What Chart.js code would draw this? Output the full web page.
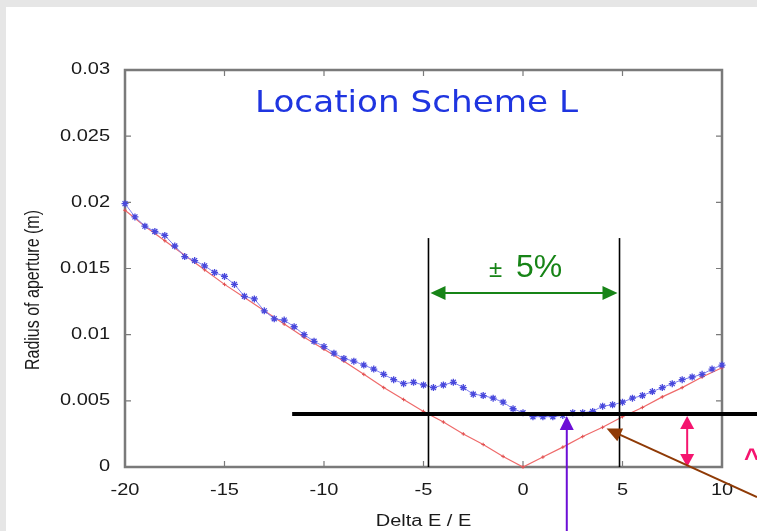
<!DOCTYPE html>
<html>
<head>
<meta charset="utf-8">
<script src="https://cdn.jsdelivr.net/npm/chart.js@4/dist/chart.umd.min.js"></script>
<style>
  html, body { margin: 0; padding: 0; background: #e6e6e6; }
  #wrap { width: 757px; height: 531px; }
</style>
</head>
<body>
<div id="wrap"><canvas id="c" width="757" height="531"></canvas></div>
<script>
// Relative energy deviation (%)
const deltaE = [
  -20, -19.5, -19, -18.5, -18, -17.5, -17, -16.5, -16, -15.5,
  -15, -14.5, -14, -13.5, -13, -12.5, -12, -11.5, -11, -10.5,
  -10, -9.5, -9, -8.5, -8, -7.5, -7, -6.5, -6, -5.5,
  -5, -4.5, -4, -3.5, -3, -2.5, -2, -1.5, -1, -0.5,
  0, 0.5, 1, 1.5, 2, 2.5, 3, 3.5, 4, 4.5,
  5, 5.5, 6, 6.5, 7, 7.5, 8, 8.5, 9, 9.5, 10
];
// Tracked aperture radius (m)
const apertureTracked = [
  0.0199, 0.0189, 0.0182, 0.0178, 0.0175, 0.0167, 0.0159, 0.0156, 0.0152, 0.0147,
  0.0144, 0.0138, 0.0129, 0.0127, 0.0118, 0.0112, 0.0111, 0.0106, 0.0100, 0.0095,
  0.0091, 0.0086, 0.0082, 0.0080, 0.0077, 0.0074, 0.0070, 0.0066, 0.0063, 0.0064,
  0.0062, 0.0060, 0.0062, 0.0064, 0.0060, 0.0055, 0.0054, 0.0052, 0.0049, 0.0044,
  0.0041, 0.0038, 0.0038, 0.0038, 0.0039, 0.0041, 0.0041, 0.0042, 0.0046, 0.0047,
  0.0049, 0.0052, 0.0054, 0.0057, 0.0060, 0.0063, 0.0066, 0.0068, 0.0070, 0.0074, 0.0077
];
// Dispersive aperture estimate
const deltaEDisp = [
  -20, -19, -18, -17, -16, -15, -14, -13, -12, -11,
  -10, -9, -8, -7, -6, -5, -4, -3, -2, -1,
  0, 1, 2, 3, 4, 5, 6, 7, 8, 9, 10
];
const apertureDisp = [
  0.0194, 0.0182, 0.0171, 0.0160, 0.0149, 0.0138, 0.0128, 0.0118, 0.0108, 0.0098,
  0.0089, 0.0080, 0.0070, 0.0060, 0.0051, 0.0042, 0.0034, 0.0025, 0.0017, 0.0008,
  0.0000, 0.00075, 0.0015, 0.0023, 0.0030, 0.0038, 0.0045, 0.0053, 0.0060, 0.0068, 0.0075
];
const xTickLabels = ['-20', '-15', '-10', '-5', '0', '5', '10'];
const yTickLabels = ['0', '0.005', '0.01', '0.015', '0.02', '0.025', '0.03'];

const titleText = 'Location Scheme L';
const xTitle = 'Delta E / E';
const yTitle = 'Radius of aperture (m)';
const windowLabel = '5%';
const apertureLimit = 0.004;       // horizontal reference level
const windowEdges = [-4.75, 4.85]; // energy window
const minMarkerX = 2.2;            // position of the purple pointer
const gapMarkerX = 8.25;           // position of the pink gap arrow
const crossing = { x: 4.2, y: 0.0029 };

const AXIS_GRAY = '#7a7a7a';
const TEXT_FONT = '"Liberation Sans", Arial, sans-serif';
const STRETCH = 1.25;

function wideText(ctx, text, x, y, align, base) {
  ctx.save();
  ctx.translate(x, y);
  ctx.scale(STRETCH, 1);
  ctx.textAlign = align;
  ctx.textBaseline = base;
  ctx.fillText(text, 0, 0);
  ctx.restore();
}

function arrowHead(ctx, tipX, tipY, fromX, fromY, len, half, color) {
  const ang = Math.atan2(tipY - fromY, tipX - fromX);
  ctx.save();
  ctx.fillStyle = color;
  ctx.translate(tipX, tipY);
  ctx.rotate(ang);
  ctx.beginPath();
  ctx.moveTo(0, 0);
  ctx.lineTo(-len, -half);
  ctx.lineTo(-len, half);
  ctx.closePath();
  ctx.fill();
  ctx.restore();
}

function line(ctx, x1, y1, x2, y2, color, w) {
  ctx.save();
  ctx.strokeStyle = color;
  ctx.lineWidth = w;
  ctx.beginPath();
  ctx.moveTo(x1, y1);
  ctx.lineTo(x2, y2);
  ctx.stroke();
  ctx.restore();
}

const framePlugin = {
  id: 'frame',
  beforeDraw(chart) {
    const ctx = chart.ctx;
    ctx.save();
    ctx.fillStyle = '#e6e6e6';
    ctx.fillRect(0, 0, chart.width, chart.height);
    ctx.fillStyle = '#ffffff';
    ctx.fillRect(6, 7, chart.width - 6, chart.height - 7);
    ctx.restore();
  },
  beforeDatasetsDraw(chart) {
    const ctx = chart.ctx;
    const a = chart.chartArea;
    const xs = chart.scales.x, ys = chart.scales.y;

    // plot box with inward ticks
    ctx.save();
    ctx.strokeStyle = AXIS_GRAY;
    ctx.lineWidth = 2.5;
    ctx.strokeRect(a.left, a.top, a.right - a.left, a.bottom - a.top);
    ctx.lineWidth = 1.2;
    ctx.beginPath();
    xs.ticks.forEach(t => {
      const px = xs.getPixelForValue(t.value);
      ctx.moveTo(px, a.bottom); ctx.lineTo(px, a.bottom - 6);
      ctx.moveTo(px, a.top); ctx.lineTo(px, a.top + 6);
    });
    ys.ticks.forEach(t => {
      const py = ys.getPixelForValue(t.value);
      ctx.moveTo(a.left, py); ctx.lineTo(a.left + 6, py);
      ctx.moveTo(a.right, py); ctx.lineTo(a.right - 6, py);
    });
    ctx.stroke();
    ctx.restore();

    // tick labels and axis titles
    ctx.save();
    ctx.fillStyle = '#1a1a1a';
    ctx.font = '16px ' + TEXT_FONT;
    xs.ticks.forEach(t => {
      wideText(ctx, t.label, xs.getPixelForValue(t.value), a.bottom + 24, 'center', 'middle');
    });
    ys.ticks.forEach(t => {
      wideText(ctx, t.label, a.left - 15, ys.getPixelForValue(t.value), 'right', 'middle');
    });
    wideText(ctx, xTitle, (a.left + a.right) / 2, 522, 'center', 'middle');
    ctx.translate(33, 290);
    ctx.scale(STRETCH, 1);
    ctx.rotate(-Math.PI / 2);
    ctx.textAlign = 'center';
    ctx.textBaseline = 'middle';
    ctx.fillText(yTitle, 0, 0);
    ctx.restore();
  },
  afterDraw(chart) {
    const ctx = chart.ctx;
    const a = chart.chartArea;
    const xs = chart.scales.x, ys = chart.scales.y;

    // energy window
    const xl = xs.getPixelForValue(windowEdges[0]);
    const xr = xs.getPixelForValue(windowEdges[1]);
    const yTopWin = ys.getPixelForValue(0.0173);
    line(ctx, xl, yTopWin, xl, a.bottom, '#000', 1.6);
    line(ctx, xr, yTopWin, xr, a.bottom, '#000', 1.6);
    const yArr = ys.getPixelForValue(0.01315);
    const green = '#178417';
    line(ctx, xl + 10, yArr, xr - 10, yArr, green, 2);
    arrowHead(ctx, xl + 2, yArr, xr, yArr, 15, 7, green);
    arrowHead(ctx, xr - 2, yArr, xl, yArr, 15, 7, green);
    ctx.save();
    ctx.fillStyle = green;
    ctx.textBaseline = 'alphabetic';
    ctx.textAlign = 'left';
    ctx.font = '24px ' + TEXT_FONT;
    ctx.fillText('\u00b1', 489, 277);
    ctx.font = '32px ' + TEXT_FONT;
    ctx.fillText(windowLabel, 516, 277);
    ctx.restore();

    // aperture limit
    const yLim = ys.getPixelForValue(apertureLimit);
    line(ctx, xs.getPixelForValue(-11.6), yLim, chart.width, yLim, '#000', 4);

    // purple pointer to the minimum
    const purple = '#6c0fd6';
    const xp = xs.getPixelForValue(minMarkerX);
    line(ctx, xp, chart.height, xp, yLim + 12, purple, 2);
    arrowHead(ctx, xp, yLim + 2, xp, chart.height, 14, 7, purple);

    // pink gap arrow
    const pink = '#f5156f';
    const xg = xs.getPixelForValue(gapMarkerX);
    line(ctx, xg, yLim + 12, xg, a.bottom - 12, pink, 2);
    arrowHead(ctx, xg, yLim + 2, xg, a.bottom, 13, 7, pink);
    arrowHead(ctx, xg, a.bottom, xg, yLim, 13, 7, pink);
    ctx.save();
    ctx.fillStyle = pink;
    ctx.font = 'bold 26px ' + TEXT_FONT;
    ctx.textAlign = 'left';
    ctx.textBaseline = 'top';
    ctx.fillText('^', 744, 447);
    ctx.restore();

    // brown pointer to the crossing
    const brown = '#8f3a06';
    const tx = xs.getPixelForValue(crossing.x), ty = ys.getPixelForValue(crossing.y);
    const fx = chart.width, fy = 497;
    const d = Math.hypot(fx - tx, fy - ty);
    line(ctx, fx, fy, tx + (fx - tx) * 12 / d, ty + (fy - ty) * 12 / d, brown, 2);
    arrowHead(ctx, tx, ty, fx, fy, 15, 7, brown);

    // title
    ctx.save();
    ctx.fillStyle = '#1f35e0';
    ctx.font = '31px "DejaVu Sans", sans-serif';
    ctx.textBaseline = 'alphabetic';
    const w = ctx.measureText(titleText).width;
    ctx.translate(255, 112);
    ctx.scale(323 / w, 1);
    ctx.textAlign = 'left';
    ctx.fillText(titleText, 0, 0);
    ctx.restore();
  }
};

const tracked = deltaE.map((x, i) => ({ x, y: apertureTracked[i] }));
const disp = deltaEDisp.map((x, i) => ({ x, y: apertureDisp[i] }));

new Chart(document.getElementById('c'), {
  type: 'scatter',
  data: {
    datasets: [
      {
        data: disp,
        showLine: true,
        clip: false,
        borderColor: '#ef6a6a',
        borderWidth: 1.2,
        pointStyle: 'cross',
        pointRadius: 1.8,
        pointBorderColor: '#e05050',
        pointBorderWidth: 1,
        order: 2
      },
      {
        data: tracked,
        showLine: true,
        clip: false,
        borderColor: '#8080f2',
        borderWidth: 1,
        pointStyle: 'star',
        pointRadius: 3.5,
        pointBorderColor: '#4848dc',
        pointBorderWidth: 1.3,
        order: 1
      }
    ]
  },
  options: {
    responsive: false,
    animation: false,
    devicePixelRatio: 1,
    layout: { padding: { left: 0, right: 35, top: 70, bottom: 0 } },
    plugins: { legend: { display: false }, tooltip: { enabled: false } },
    scales: {
      x: {
        type: 'linear', min: -20, max: 10,
        grid: { display: false, drawTicks: false },
        border: { display: false },
        ticks: { display: false, stepSize: 5, callback: (v, i) => xTickLabels[i] },
        afterFit: s => { s.height = 64; }
      },
      y: {
        type: 'linear', min: 0, max: 0.03,
        grid: { display: false, drawTicks: false },
        border: { display: false },
        ticks: { display: false, stepSize: 0.005, callback: (v, i) => yTickLabels[i] },
        afterFit: s => { s.width = 125; }
      }
    }
  },
  plugins: [framePlugin]
});
</script>
</body>
</html>
